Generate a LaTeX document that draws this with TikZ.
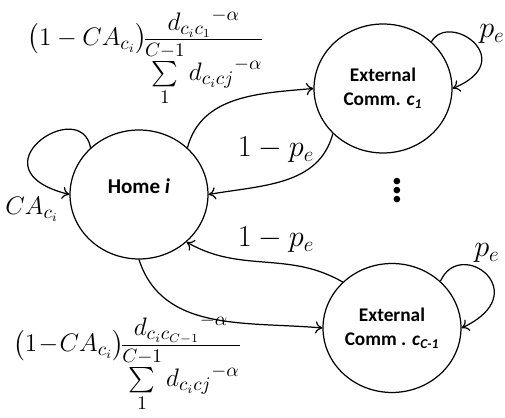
\documentclass[tikz,border=0pt]{standalone}
\usepackage{amsmath}
\usepackage[no-math]{fontspec}
\newfontfamily\calfont{Carlito}
\usetikzlibrary{arrows.meta,shapes.geometric}

\tikzset{
  state/.style={ellipse,draw,line width=0.7pt,minimum width=2.76cm,minimum height=2.58cm,
    inner sep=0pt,align=center,font=\calfont\bfseries\fontsize{11}{13.5}\selectfont},
  trans/.style={-{To[length=4pt,width=7pt]},line width=0.7pt},
  prob/.style={font=\fontsize{17}{20}\selectfont,inner sep=0pt},
  form/.style={font=\fontsize{15}{18}\selectfont,inner sep=0pt}
}

\begin{document}
\begin{tikzpicture}[x=0.02cm,y=0.02cm]
\useasboundingbox (0,0) rectangle (505,418);
% etats
\node[state,font=\calfont\bfseries\fontsize{12}{14}\selectfont] (home) at (139,223.5) {Home \textit{i}\\[-4pt]};
\node[state] (ext1) at (383,329.5) {External\\Comm. \textit{c}\textsubscript{\textit{1}}};
\node[state] (ext2) at (392,90) {External\\Comm . \textit{c}\textsubscript{\textit{C-1}}};
\node[font=\calfont\bfseries\fontsize{20}{20}\selectfont,scale=1.25] (dots) at (397,234) {\vdots};
% transitions
\draw[trans] (home.44) to[out=75,in=185] (ext1.west);
\draw[trans] (ext1.222) to[out=255,in=10] (home.east);
\draw[trans] (ext2.137) to[out=150,in=-30] (home.-45);
\draw[trans] (home.south) to[out=-72,in=175] (ext2.west);
% boucles
\draw[trans] (home.136) .. controls +(-10,53) and +(-100,25) .. (home.west);
\draw[trans] (ext1.44) .. controls +(18,31) and +(68,28) .. (ext1.east);
\draw[trans] (ext2.44) .. controls +(20,45) and +(75,35) .. (ext2.east);
% probabilites
\node[prob,anchor=base] (q1) at (276,261) {$1-p_e$};
\node[prob,anchor=base] (q2) at (276,171) {$1-p_e$};
\node[prob,anchor=base] (s1) at (492,380) {$p_e$};
\node[prob,anchor=base] (s2) at (487,161) {$p_e$};
\node[prob,anchor=base,font=\fontsize{15}{18}\selectfont] (ca) at (32,203) {$CA_{c_i}$};
\node[form] (f1) at (146,360.5) {$\bigl(1-CA_{c_i}\bigr)\!\frac{\displaystyle {d_{c_ic_1}}^{-\alpha}}{\textstyle\sum\limits_{1}^{C-1}\displaystyle{d_{c_icj}}^{-\alpha}}$};
\node[form] (f2) at (127.5,55) {$\bigl(1\!-\!CA_{c_i}\bigr)\!\frac{\displaystyle {d_{c_ic_{C-1}}}^{-\alpha}}{\textstyle\sum\limits_{1}^{C-1}\displaystyle{d_{c_icj}}^{-\alpha}}$};
\end{tikzpicture}
\end{document}
